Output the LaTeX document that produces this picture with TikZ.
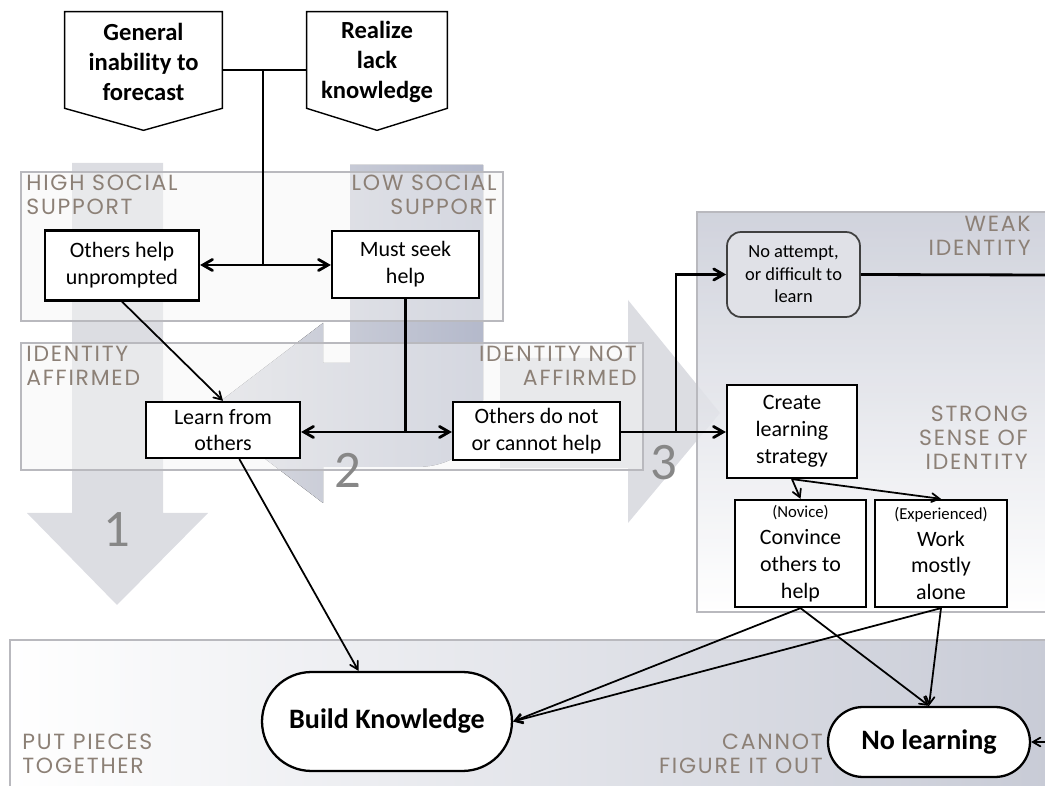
\documentclass[tikz,border=0pt]{standalone}
\usepackage{fontspec}
\setmainfont{Carlito}
\newfontfamily\regfont{Poppins}[LetterSpace=8]
\usepackage{xcolor}
\usetikzlibrary{arrows,shapes,calc}

\definecolor{labelbrown}{RGB}{140,128,118}
\definecolor{arrowgray}{RGB}{220,221,226}
\definecolor{arrowblue}{RGB}{180,185,203}
\definecolor{panelgray}{RGB}{200,203,214}
\definecolor{panelline}{RGB}{185,185,190}
\definecolor{numgray}{RGB}{135,135,135}
\definecolor{weakfill}{RGB}{224,225,231}

\begin{document}
\begin{tikzpicture}[x=0.02cm,y=-0.02cm,
	box/.style={draw,line width=1.3pt,fill=white,align=center,inner sep=0pt,font=\fontsize{12.5}{15.3}\selectfont},
	sign/.style={align=center,inner sep=0pt,font=\fontsize{14}{17}\selectfont\bfseries},
	goal/.style={draw,line width=1.3pt,fill=white,shape=rounded rectangle,inner sep=0pt,font=\fontsize{16}{19}\selectfont\bfseries},
	panel/.style={draw=panelline,line width=0.8pt},
	tag/.style={text=labelbrown,inner sep=0pt,font=\regfont\fontsize{12.5}{13.5}\selectfont},
	bignum/.style={text=numgray,font=\fontsize{30}{30}\selectfont},
	>=angle 60]
	\useasboundingbox (0,0) rectangle (1045,786);
	%
	% background arrows
	\fill[arrowgray] (72,163) -- (163,163) -- (163,513) -- (208,513) -- (117,605) -- (27,513) -- (72,513) -- cycle;
	\fill[arrowgray] (500,358) -- (628,358) -- (628,300) -- (720,413) -- (628,523) -- (628,468) -- (500,468) -- cycle;
	\fill[left color=arrowgray,right color=arrowblue] (350,165) -- (483,165) -- (483,400) .. controls (483,445) and (455,467) .. (416,467) -- (323,467) -- (323,503) -- (205,413) -- (323,323) -- (323,363) -- (350,363) -- cycle;
	%
	% panels
	\draw[panel,fill=gray!8,fill opacity=0.5] (21,172) rectangle (503,321);
	\draw[panel,fill=gray!8,fill opacity=0.5] (21,343) rectangle (643,470);
	\draw[panel,top color=panelgray,bottom color=white,fill opacity=0.85] (697,212) rectangle (1050,612);
	\draw[panel,left color=white,right color=panelgray] (10,640) rectangle (1050,790);
	%
	\node[tag,anchor=north west,align=left] (hss) at (26,175) {HIGH SOCIAL\\SUPPORT};
	\node[tag,anchor=north east,align=right] (lss) at (497,175) {LOW SOCIAL\\SUPPORT};
	\node[tag,anchor=north west,align=left] (ida) at (26,346) {IDENTITY\\AFFIRMED};
	\node[tag,anchor=north east,align=right] (idn) at (637,346) {IDENTITY NOT\\AFFIRMED};
	\node[tag,anchor=north east,align=right] (wid) at (1031,216) {WEAK\\IDENTITY};
	\node[tag,anchor=north east,align=right] (ssi) at (1028,406) {STRONG\\SENSE OF\\IDENTITY};
	\node[tag,anchor=north west,align=left] (ppt) at (22,734) {PUT PIECES\\TOGETHER};
	\node[tag,anchor=north east,align=right] (cfo) at (823,734) {CANNOT\\FIGURE IT OUT};
	%
	\node[bignum] (n1) at (117,530) {1};
	\node[bignum] (n2) at (348,470) {2};
	\node[bignum] (n3) at (664,463) {3};
	%
	% nodes
	\node[sign,minimum width=3.14cm,minimum height=1.92cm] (gen) at (143.5,62) {General\\inability to\\forecast};
	\node[sign,minimum width=2.8cm,minimum height=1.92cm] (real) at (377,62) {Realize\\lack\\knowledge};
	\draw[line width=0.8pt] ($(gen.north west)+(0,-2)$) -- ($(gen.north east)+(0,-2)$) -- ($(gen.south east)+(0,-2)$) -- ($(gen.south)+(0,20)$) -- ($(gen.south west)+(0,-2)$) -- cycle;
	\draw[line width=0.8pt] ($(real.north west)+(0,-2)$) -- ($(real.north east)+(0,-2)$) -- ($(real.south east)+(0,-2)$) -- ($(real.south)+(0,20)$) -- ($(real.south west)+(0,-2)$) -- cycle;
	\node[box,minimum width=3.08cm,minimum height=1.4cm] (ohu) at (122,265.5) {Others help\\unprompted};
	\node[box,minimum width=2.94cm,minimum height=1.34cm] (msh) at (405.5,264.5) {Must seek\\help};
	\node[box,minimum width=3.08cm,minimum height=1.12cm] (lfo) at (223,430) {Learn from\\others};
	\node[box,minimum width=3.34cm,minimum height=1.16cm] (odn) at (536.5,431) {Others do not\\or cannot help};
	\node[box,rounded corners=8pt,fill=weakfill,draw=black!75,line width=1pt,minimum width=2.66cm,minimum height=1.7cm,font=\fontsize{10.5}{12.8}\selectfont] (nat) at (793.5,274.5) {No attempt,\\or difficult to\\learn};
	\node[box,minimum width=2.6cm,minimum height=1.86cm] (cls) at (792,431.5) {Create\\learning\\strategy};
	\node[box,minimum width=2.62cm,minimum height=2.14cm] (cnv) at (800.5,553.5) {{\fontsize{9.5}{11}\selectfont (Novice)}\\Convince\\others to\\help};
	\node[box,minimum width=2.64cm,minimum height=2.14cm] (wma) at (941,553.5) {{\fontsize{9.5}{11}\selectfont (Experienced)}\\Work\\mostly\\alone};
	\node[goal,minimum width=5cm,minimum height=1.98cm] (bk) at (387,721.5) {Build Knowledge};
	\node[goal,minimum width=4.04cm,minimum height=1.4cm] (nl) at (929,742) {No learning};
	%
	\coordinate (split) at (263,70);
	\coordinate (hub1) at (263,265);
	\coordinate (hub2) at (405.5,432);
	\coordinate (hub3) at (676,432);
	\coordinate (weakout) at (1045,275);
	\coordinate (nlin) at (1045,742);
	%
	\draw[line width=1.6pt] (gen.east |- split) -- (real.west |- split);
	\draw[line width=1.6pt] (split) -- (hub1);
	\draw[<->,line width=1.6pt] (ohu.east |- hub1) -- (msh.west |- hub1);
	\draw[line width=1.6pt] (msh.south) -- (hub2);
	\draw[<->,line width=1.6pt] (lfo.east |- hub2) -- (odn.west |- hub2);
	\draw[line width=1.6pt] (odn.east |- hub3) -- (hub3);
	\draw[->,line width=1.6pt] (hub3) -- (cls.west |- hub3);
	\draw[->,line width=1.6pt] (hub3) |- (nat.west);
	\draw[line width=1.6pt] (nat.east) -- (weakout);
	%
	\path[->,line width=1pt]
	(ohu.south) edge (lfo.north)
	(lfo) edge (bk)
	(cls.south) edge (cnv.north)
	(cls.south) edge (wma.north)
	(cnv.south) edge (bk.east)
	(cnv.south) edge (nl.north)
	(wma.south) edge (bk.east)
	(wma.south) edge (nl.north)
	(nlin) edge (nl.east);
\end{tikzpicture}
\end{document}
